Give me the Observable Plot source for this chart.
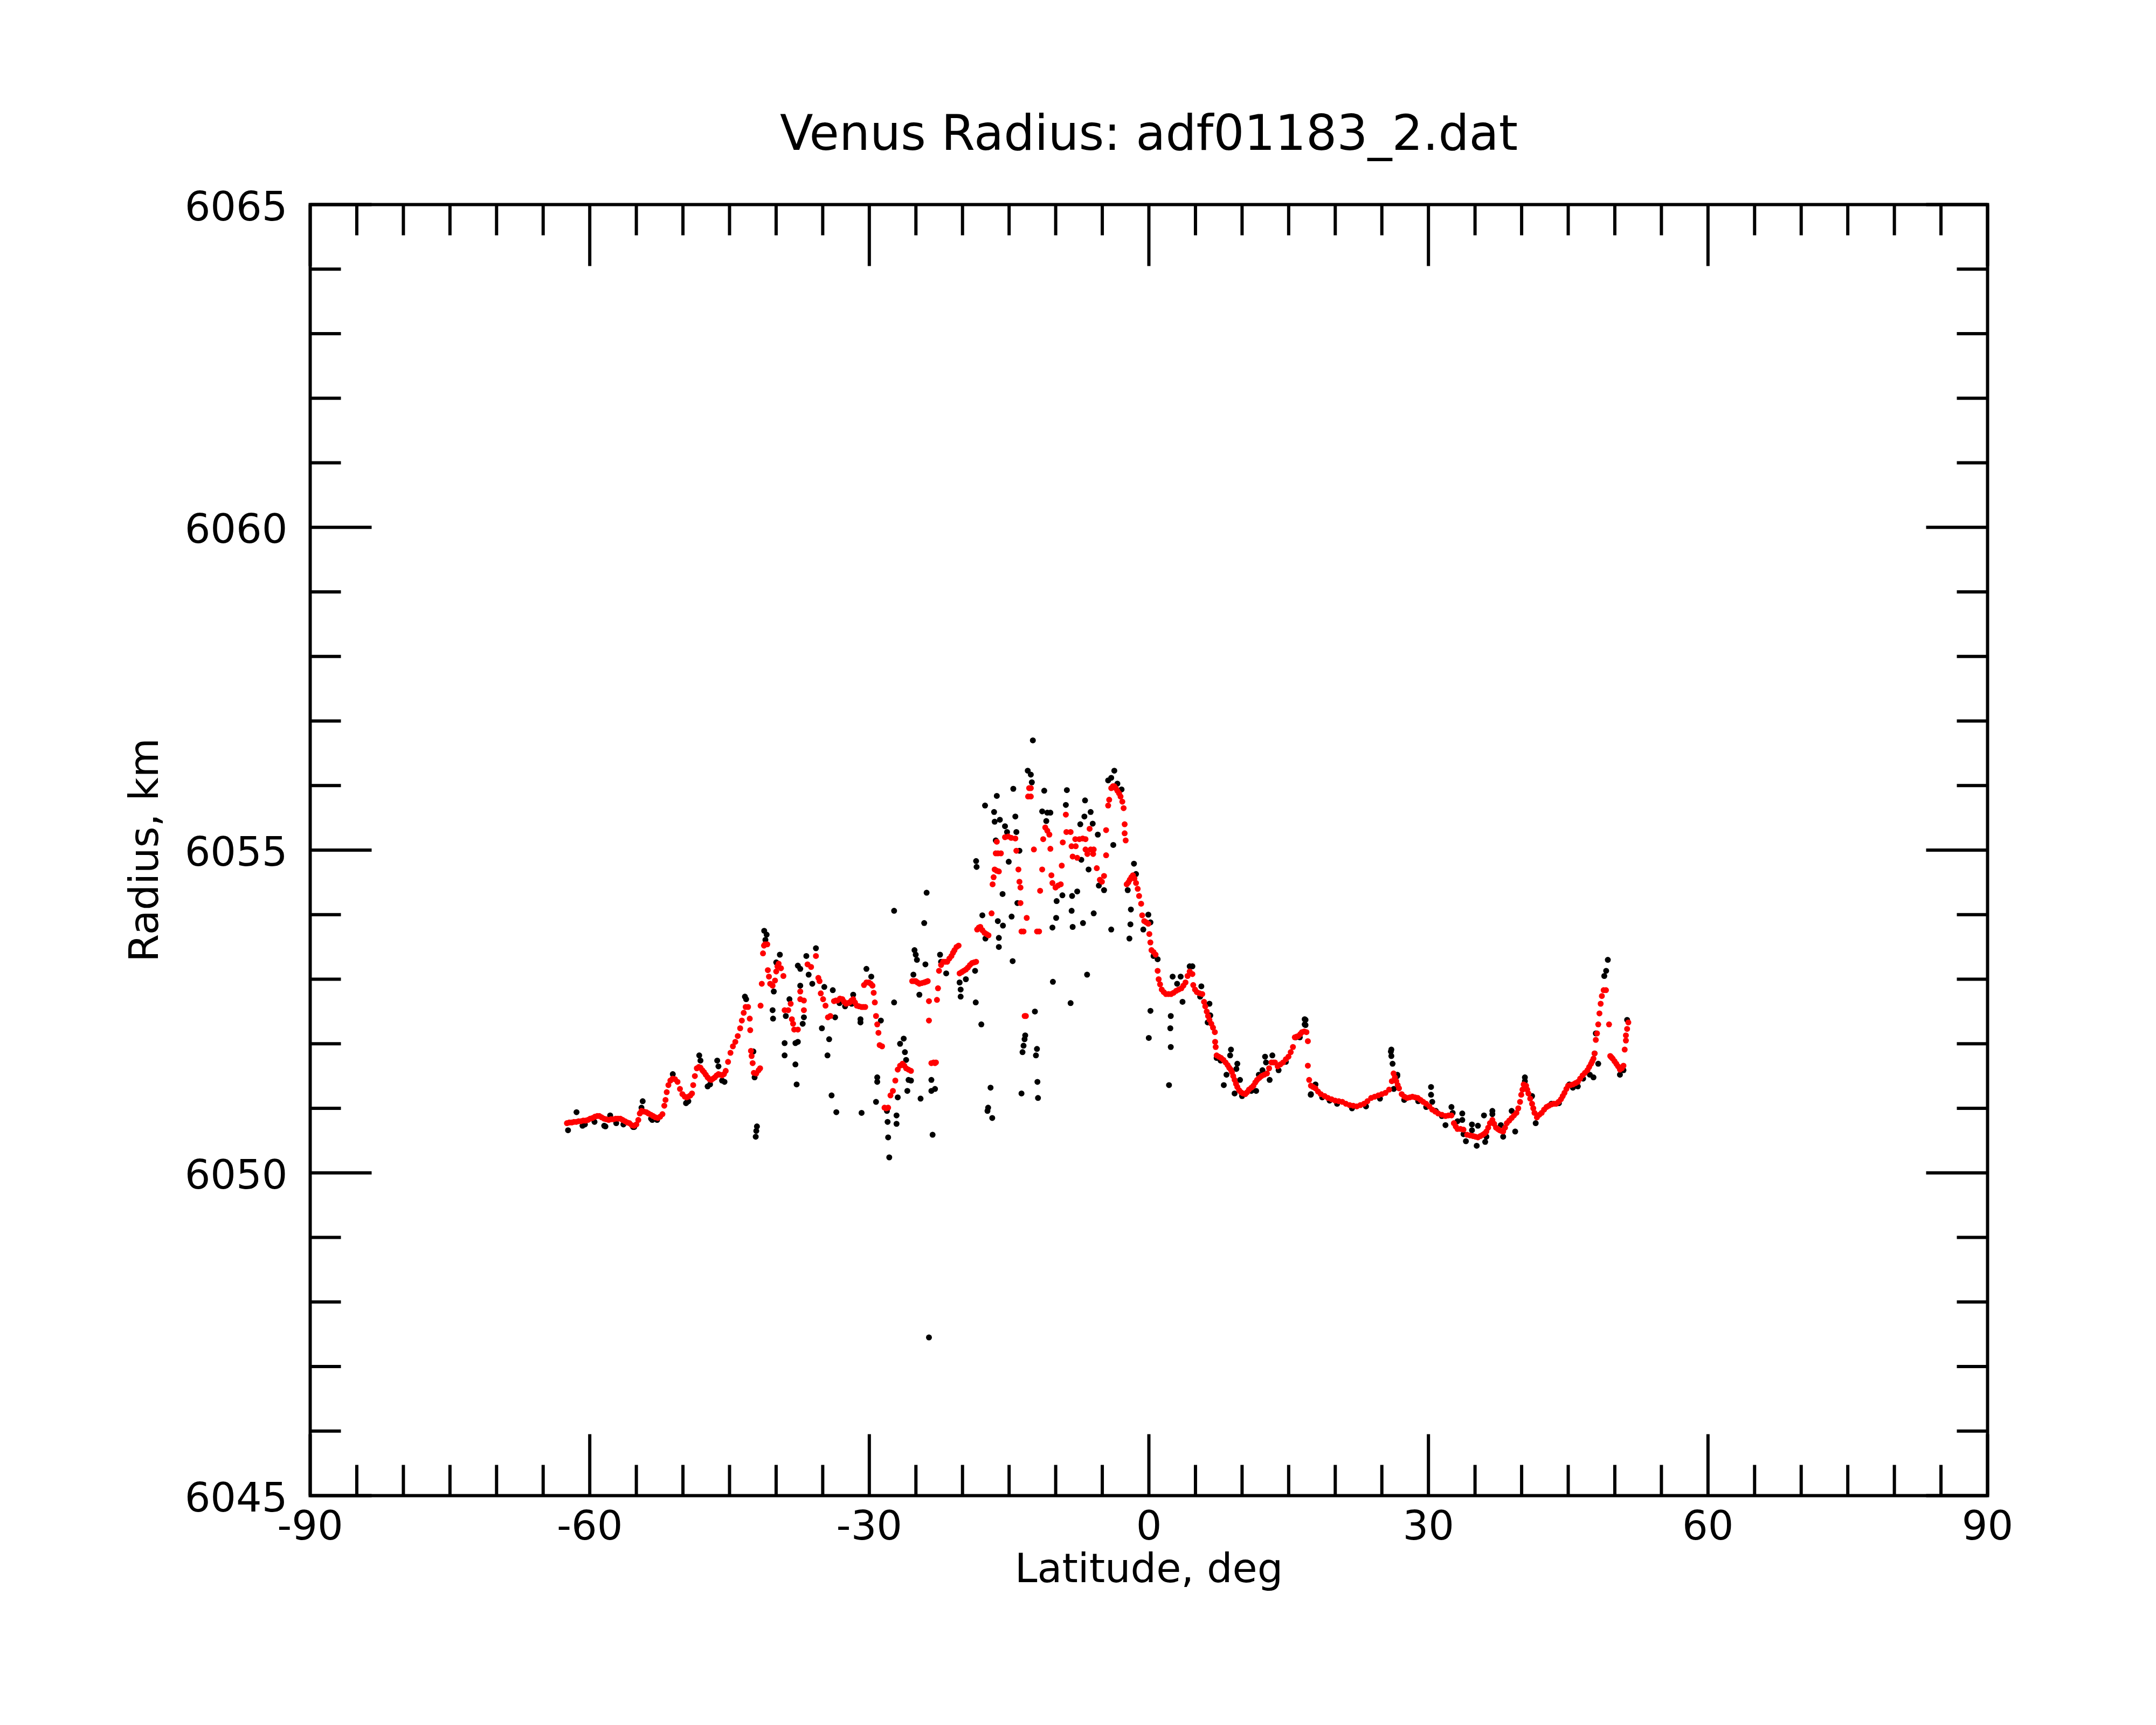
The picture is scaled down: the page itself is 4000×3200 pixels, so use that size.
<!DOCTYPE html>
<html>
<head>
<meta charset="utf-8">
<script src="https://cdn.jsdelivr.net/npm/d3@7"></script>
<script src="https://cdn.jsdelivr.net/npm/@observablehq/plot@0.6"></script>
<style>
  html, body { margin: 0; padding: 0; background: #fff; }
</style>
</head>
<body>
<div id="chart"></div>
<script>
const titleText = "Venus Radius: adf01183_2.dat";
const xLabelText = "Latitude, deg";
const yLabelText = "Radius, km";

const xDomain = [-90, 90];
const yDomain = [6045, 6065];
const xMajorTicks = [-90, -60, -30, 0, 30, 60, 90];
const xMinorTicks = [-85, -80, -75, -70, -65, -55, -50, -45, -40, -35, -25, -20, -15, -10, -5, 5, 10, 15, 20, 25, 35, 40, 45, 50, 55, 65, 70, 75, 80, 85];
const yMajorTicks = [6045, 6050, 6055, 6060, 6065];
const yMinorTicks = [6046, 6047, 6048, 6049, 6051, 6052, 6053, 6054, 6056, 6057, 6058, 6059, 6061, 6062, 6063, 6064];

// red series: [latitude, radius]
const smoothedRadius = [
[-62.45,6050.77],[-62.2,6050.78],[-61.94,6050.78],[-61.7,6050.79],[-61.45,6050.79],[-61.2,6050.80],[-60.95,6050.80],[-60.7,6050.81],[-60.45,6050.81],[-60.2,6050.82],[-59.95,6050.84],[-59.7,6050.85],[-59.45,6050.87],[-59.2,6050.88],[-58.97,6050.88],[-58.72,6050.86],[-58.47,6050.84],[-58.22,6050.83],[-57.97,6050.82],[-57.72,6050.83],[-57.47,6050.83],[-57.22,6050.84],[-56.97,6050.84],[-56.72,6050.84],[-56.47,6050.82],[-56.22,6050.80],[-55.97,6050.78],[-55.74,6050.77],[-55.5,6050.74],[-55.25,6050.73],[-55.0,6050.75],[-54.79,6050.82],[-54.63,6050.92],[-54.45,6050.96],[-54.2,6050.95],[-53.93,6050.94],[-53.7,6050.92],[-53.45,6050.90],[-53.2,6050.88],[-52.95,6050.86],[-52.7,6050.85],[-52.45,6050.87],[-52.2,6050.91],[-52.0,6051.04],[-51.87,6051.13],[-51.74,6051.25],[-51.56,6051.36],[-51.35,6051.43],[-51.1,6051.46],[-50.85,6051.45],[-50.58,6051.41],[-50.32,6051.30],[-50.06,6051.22],[-49.80,6051.18],[-49.6,6051.17],[-49.42,6051.18],[-49.2,6051.20],[-49.03,6051.23],[-48.90,6051.36],[-48.72,6051.50],[-48.51,6051.62],[-48.3,6051.64],[-48.12,6051.63],[-47.92,6051.59],[-47.74,6051.56],[-47.55,6051.52],[-47.35,6051.48],[-47.15,6051.45],[-46.96,6051.44],[-46.77,6051.46],[-46.58,6051.48],[-46.38,6051.51],[-46.19,6051.53],[-46.0,6051.52],[-45.80,6051.51],[-45.6,6051.53],[-45.41,6051.58],[-45.16,6051.72],[-44.90,6051.86],[-44.64,6051.96],[-44.38,6052.03],[-44.12,6052.12],[-43.86,6052.24],[-43.68,6052.36],[-43.48,6052.48],[-43.27,6052.57],[-43.01,6052.57],[-42.83,6052.39],[-42.78,6052.21],[-42.70,6051.89],[-42.63,6051.81],[-42.52,6051.70],[-42.39,6051.55],[-42.13,6051.54],[-41.88,6051.59],[-41.72,6051.62],
[-41.67,6052.59],[-41.54,6052.93],[-41.41,6053.40],[-41.30,6053.52],[-41.20,6053.54],[-40.95,6053.54],[-40.89,6053.14],[-40.77,6053.04],[-40.64,6052.93],[-40.38,6052.90],[-40.12,6052.98],[-39.99,6053.12],[-39.86,6053.20],[-39.73,6053.24],[-39.48,6053.17],[-39.22,6053.05],[-39.09,6052.52],[-38.70,6052.52],[-38.44,6052.62],[-38.31,6052.38],[-38.18,6052.31],[-38.06,6052.22],[-37.67,6052.22],[-37.41,6052.81],[-37.41,6052.69],[-37.02,6052.67],[-37.02,6052.52],[-36.63,6053.23],[-36.25,6053.19],[-35.73,6053.36],[-35.47,6053.02],[-35.34,6052.97],[-35.21,6052.78],[-34.96,6052.69],[-34.70,6052.59],[-34.44,6052.41],[-34.18,6052.43],[-33.79,6052.66],[-33.6,6052.67],[-33.41,6052.67],[-33.15,6052.70],[-32.89,6052.69],[-32.7,6052.65],[-32.50,6052.62],[-32.3,6052.63],[-32.12,6052.64],[-31.92,6052.67],[-31.73,6052.69],[-31.54,6052.64],[-31.34,6052.59],[-31.1,6052.58],[-30.83,6052.57],[-30.64,6052.57],[-30.44,6052.57],[-30.57,6052.91],[-30.31,6052.95],[-30.05,6052.95],[-29.85,6052.93],[-29.66,6052.90],[-29.53,6052.79],[-29.41,6052.64],[-29.28,6052.43],[-29.15,6052.30],[-29.02,6052.17],[-28.89,6051.98],[-28.63,6051.96],[-28.37,6051.01],[-28.18,6051.00],[-27.98,6051.01],[-27.73,6051.20],[-27.47,6051.27],[-27.21,6051.43],[-26.95,6051.60],[-26.70,6051.66],[-26.44,6051.69],[-26.25,6051.66],[-26.05,6051.62],[-25.8,6051.60],[-25.53,6051.58],[-25.40,6052.97],[-25.2,6052.97],[-25.02,6052.97],[-24.83,6052.95],[-24.63,6052.93],[-24.37,6052.94],[-24.11,6052.95],[-23.92,6052.96],[-23.73,6052.97],[-23.60,6052.66],[-23.60,6052.36],[-23.34,6051.70],[-23.10,6051.71],[-22.95,6051.70],
[-22.85,6051.71],[-22.74,6052.68],[-22.63,6052.86],[-22.52,6053.13],[-22.30,6053.22],[-22.08,6053.27],[-21.86,6053.27],[-21.64,6053.27],[-21.41,6053.32],[-21.19,6053.36],[-21.02,6053.41],[-20.86,6053.45],[-20.64,6053.50],[-20.42,6053.52],[-20.31,6053.09],[-20.09,6053.11],[-19.87,6053.13],[-19.64,6053.15],[-19.42,6053.18],[-19.20,6053.22],[-18.98,6053.25],[-18.76,6053.26],[-18.54,6053.27],[-18.43,6053.77],[-18.25,6053.80],[-18.09,6053.81],[-17.87,6053.76],[-17.65,6053.72],[-17.43,6053.70],[-17.21,6053.68],[-16.88,6054.02],[-16.77,6054.47],[-16.66,6054.58],[-16.55,6054.70],[-16.32,6054.68],[-16.10,6054.67],[-16.43,6054.95],[-16.20,6054.95],[-15.88,6054.95],[-16.32,6055.13],[-15.44,6055.20],[-15.10,6055.21],[-14.77,6055.19],[-14.33,6055.18],[-14.22,6054.99],[-14.00,6054.70],[-13.89,6054.51],[-13.78,6054.42],[-13.78,6054.18],[-13.67,6053.74],[-13.45,6053.74],[-13.33,6052.43],[-13.20,6052.43],[-13.11,6053.95],[-12.96,6055.83],[-12.67,6055.83],[-12.67,6055.96],[-12.85,6055.96],[-12.34,6055.01],[-12.00,6053.74],[-11.78,6053.74],[-11.67,6054.37],[-11.45,6054.70],[-11.34,6055.17],[-11.12,6055.35],[-10.90,6055.30],[-10.68,6055.24],[-10.57,6055.02],[-10.46,6054.61],[-10.35,6054.49],[-10.02,6054.42],[-9.75,6054.45],[-9.46,6054.47],[-9.35,6054.76],[-9.24,6055.12],[-8.91,6055.55],[-8.85,6055.28],[-8.40,6055.28],[-8.30,6055.06],[-7.85,6055.06],[-8.18,6054.90],[-7.69,6054.88],[-7.90,6055.17],[-7.46,6055.17],[-7.1,6055.18],[-6.80,6055.17],[-6.36,6055.33],[-6.80,6055.01],[-6.25,6055.01],[-5.92,6055.01],[-6.60,6054.94],[-5.98,6054.94],[-5.59,6054.72],[-5.26,6054.54],[-5.04,6054.51],[-4.81,6054.60],[-4.59,6054.92],[-4.59,6055.31],[-4.37,6055.69],[-4.26,6055.78],[-4.04,6055.96],[-3.85,6055.99],[-3.71,6055.99],[-3.55,6055.96],[-3.38,6055.92],[-3.2,6055.88],[-3.04,6055.83],[-2.85,6055.75],[-2.71,6055.65],[-2.60,6055.40],[-2.60,6055.26],[-2.49,6055.15],[-2.38,6054.47],[-2.2,6054.50],[-2.05,6054.54],[-1.88,6054.58],[-1.71,6054.61],[-1.55,6054.56],[-1.38,6054.49],[-1.2,6054.40],[-1.05,6054.29],[-0.83,6054.17],[-0.72,6053.99],[-0.50,6053.90],[-0.28,6053.88],[-0.06,6053.86],[0.05,6053.70],[0.16,6053.57],[0.28,6053.45],[0.5,6053.42],[0.72,6053.38],[0.94,6053.13],[1.05,6053.00],[1.2,6052.92],[1.38,6052.84],[1.6,6052.80],[1.83,6052.77],[2.1,6052.77],[2.38,6052.77],[2.65,6052.79],[2.93,6052.82],[3.2,6052.84],[3.49,6052.86],[3.7,6052.90],[3.93,6052.95],[4.15,6053.05],
[4.38,6053.12],[4.67,6053.08],[4.76,6052.91],[4.95,6052.84],[5.15,6052.80],[5.45,6052.78],[5.73,6052.77],[5.92,6052.65],[6.05,6052.58],[6.21,6052.50],[6.35,6052.43],[6.50,6052.37],[6.7,6052.31],[6.88,6052.25],[7.08,6052.18],[7.11,6052.03],[7.17,6051.95],[7.27,6051.82],[7.5,6051.80],[7.75,6051.78],[8.0,6051.75],[8.23,6051.71],[8.45,6051.67],[8.62,6051.63],[8.78,6051.60],[8.91,6051.56],[9.05,6051.50],[9.20,6051.44],[9.35,6051.38],[9.49,6051.33],[9.68,6051.28],[9.87,6051.25],[10.1,6051.23],[10.35,6051.22],[10.55,6051.25],[10.74,6051.29],[11.0,6051.32],[11.22,6051.35],[11.42,6051.40],[11.61,6051.44],[11.85,6051.47],[12.09,6051.50],[12.38,6051.52],[12.67,6051.54],[12.9,6051.62],[13.15,6051.71],[13.35,6051.71],[13.53,6051.71],[13.82,6051.65],[14.1,6051.68],[14.40,6051.71],[14.7,6051.76],[14.98,6051.80],[15.22,6051.87],[15.46,6051.95],[15.66,6052.10],[15.85,6052.11],[16.04,6052.12],[16.25,6052.15],[16.43,6052.18],[16.67,6052.19],[16.91,6052.18],[17.06,6052.04],[17.06,6051.66],[17.20,6051.44],[17.39,6051.35],[17.62,6051.33],[17.87,6051.31],[18.15,6051.26],[18.45,6051.22],[18.85,6051.19],[19.22,6051.16],[19.6,6051.14],[19.99,6051.12],[20.38,6051.11],[20.76,6051.10],[21.15,6051.07],[21.54,6051.05],[21.93,6051.04],[22.31,6051.03],[22.7,6051.05],[23.08,6051.07],[23.45,6051.11],[23.85,6051.16],[24.23,6051.18],[24.62,6051.20],[25.0,6051.22],[25.39,6051.24],[25.78,6051.29],[26.07,6051.42],[26.26,6051.54],[26.4,6051.48],[26.55,6051.42],[26.7,6051.36],[26.84,6051.31],[27.13,6051.22],[27.42,6051.18],[27.71,6051.16],[28.0,6051.17],[28.28,6051.18],[28.57,6051.17],[28.86,6051.16],[29.15,6051.13],[29.44,6051.10],[29.76,6051.07],[30.10,6051.03],[30.41,6050.98],[30.73,6050.95],[31.05,6050.92],[31.44,6050.90],[31.83,6050.88],[32.15,6050.89],[32.47,6050.89],[32.73,6050.77],[32.93,6050.72],[33.12,6050.68],[33.44,6050.68],[33.76,6050.67],[34.15,6050.59],[34.48,6050.58],[34.80,6050.57],[35.05,6050.56],[35.31,6050.55],[35.57,6050.57],[35.83,6050.59],[36.03,6050.61],[36.22,6050.64],[36.41,6050.70],[36.60,6050.77],[36.86,6050.82],[37.05,6050.76],[37.25,6050.70],[37.45,6050.68],[37.64,6050.66],[37.83,6050.65],[38.02,6050.64],[38.22,6050.70],[38.41,6050.77],[38.67,6050.81],[38.93,6050.85],[39.18,6050.89],[39.44,6050.93],[39.64,6051.00],[39.83,6051.10],[39.96,6051.21],[40.09,6051.29],[40.22,6051.37],[40.48,6051.35],[40.6,6051.29],[40.73,6051.23],[40.92,6051.15],[41.12,6051.07],[41.25,6051.00],[41.38,6050.93],[41.64,6050.86],[41.9,6050.90],[42.15,6050.93],[42.41,6050.98],[42.67,6051.02],[42.93,6051.04],[43.19,6051.06],[43.45,6051.07],[43.70,6051.07],[43.96,6051.10],[44.22,6051.14],[44.41,6051.19],[44.60,6051.24],[44.8,6051.30],[44.99,6051.35],[45.25,6051.36],[45.51,6051.37],[45.77,6051.39],[46.03,6051.41],[46.28,6051.46],[46.54,6051.51],[46.8,6051.55],[47.06,6051.59],[47.25,6051.64],[47.45,6051.69],[47.58,6051.73],[47.71,6051.77],[47.83,6051.85],[47.96,6052.06],[48.09,6052.16],[48.22,6052.30],[48.35,6052.47],[48.48,6052.62],[48.61,6052.74],[48.80,6052.83],[49.05,6052.83],[49.38,6052.30],[49.51,6051.81],[49.64,6051.79],[49.77,6051.77],[49.97,6051.73],[50.16,6051.69],[50.35,6051.65],[50.55,6051.60],[50.75,6051.62],[50.93,6051.66],[51.06,6051.91],[51.19,6052.05],[51.19,6052.13],[51.32,6052.23],[51.45,6052.33]
];

// black series: [latitude, radius]
const rawRadius = [
[-62.33,6050.66],[-61.42,6050.94],[-60.78,6050.73],[-60.52,6050.75],[-59.49,6050.79],[-58.45,6050.73],[-58.32,6050.72],[-57.81,6050.89],[-57.16,6050.77],[-56.39,6050.75],[-55.35,6050.71],[-55.23,6050.71],[-54.32,6051.11],[-54.45,6051.01],[-53.42,6050.84],[-53.29,6050.82],[-52.77,6050.82],[-51.09,6051.53],[-49.67,6051.08],[-49.54,6051.10],[-49.42,6051.11],[-48.25,6051.82],[-48.12,6051.74],[-47.35,6051.34],[-47.09,6051.37],[-46.32,6051.74],[-46.19,6051.65],[-45.80,6051.43],[-45.54,6051.41],
[-43.35,6052.73],[-43.22,6052.69],[-42.44,6051.88],[-42.31,6051.48],[-42.06,6050.72],[-42.13,6050.65],[-42.19,6050.56],[-41.28,6053.75],[-41.02,6053.69],[-41.15,6053.61],[-40.38,6052.52],[-40.33,6052.39],[-40.25,6052.81],[-39.60,6053.38],[-39.99,6053.26],[-39.09,6052.01],[-39.09,6051.82],[-37.93,6051.68],[-37.80,6051.37],[-37.93,6052.01],[-37.67,6052.03],[-37.67,6053.21],[-37.41,6053.16],[-37.41,6052.90],[-37.15,6052.31],[-37.02,6052.41],[-38.57,6052.69],[-38.96,6052.43],[-36.76,6053.36],[-36.51,6053.07],[-36.12,6052.93],[-35.73,6053.48],[-34.83,6052.88],[-35.09,6052.24],[-34.49,6051.82],[-34.31,6052.07],[-34.05,6051.20],[-33.92,6052.83],[-33.54,6050.94],[-33.67,6052.41],[-33.2,6052.63],[-32.6,6052.58],[-31.9,6052.62],[-30.95,6052.38],[-30.95,6052.33],[-31.73,6052.76],[-30.83,6050.93],[-30.31,6053.16],[-29.79,6053.04],[-29.28,6051.10],[-29.15,6051.48],[-29.15,6051.41],[-28.76,6052.36],[-28.11,6050.96],[-28.04,6050.79],[-27.98,6050.55],[-27.86,6050.24],[-27.34,6054.06],[-27.34,6052.64],[-27.08,6050.89],[-27.08,6050.76],[-26.95,6051.17],[-26.70,6052.00],[-26.31,6052.08],[-26.18,6051.87],[-26.05,6051.75],[-25.92,6051.27],[-25.79,6051.44],[-25.53,6051.43],[-25.27,6053.07],[-25.15,6053.45],[-25.02,6053.38],[-24.89,6053.30],[-24.63,6052.76],[-24.50,6051.15],[-24.11,6053.87],[-23.98,6053.23],[-23.85,6054.34],[-23.6,6047.45],[-23.34,6051.44],[-23.21,6050.59],[-23.34,6051.27],[-22.95,6051.30],
[-22.41,6053.38],[-22.30,6053.27],[-21.75,6053.09],[-20.31,6052.95],[-20.20,6052.84],[-20.20,6052.73],[-19.64,6053.00],[-18.65,6053.13],[-18.58,6052.64],[-17.98,6052.30],[-18.54,6054.83],[-18.49,6054.74],[-17.87,6053.99],[-17.54,6053.63],[-16.99,6051.32],[-17.25,6051.01],[-17.32,6050.96],[-16.81,6050.85],[-17.58,6055.69],[-16.32,6055.84],[-16.61,6055.59],[-16.55,6055.44],[-15.99,6055.47],[-15.44,6055.37],[-15.22,6055.28],[-16.43,6055.15],[-16.21,6053.90],[-15.66,6053.83],[-16.10,6053.64],[-16.10,6053.50],[-15.70,6054.32],[-15.04,6054.82],[-14.73,6053.97],[-14.62,6053.28],[-14.55,6055.95],[-14.33,6055.52],[-14.22,6055.28],[-13.89,6054.99],[-14.11,6054.18],[-13.67,6051.23],[-13.56,6051.87],[-13.45,6051.97],[-13.34,6052.07],[-13.27,6052.13],[-13.00,6056.23],[-12.67,6056.17],[-12.56,6056.05],[-12.45,6056.70],[-12.23,6052.50],[-12.01,6051.92],[-12.12,6051.82],[-11.96,6051.41],[-11.90,6051.16],[-11.23,6055.92],[-11.45,6055.60],[-10.90,6055.58],[-10.57,6055.58],[-11.01,6055.45],[-10.35,6053.80],[-10.30,6052.96],[-9.95,6053.95],[-9.90,6054.21],[-9.28,6054.30],[-8.80,6055.93],[-8.91,6055.70],[-8.40,6052.63],[-8.29,6054.06],[-8.18,6053.81],[-8.24,6054.29],[-7.69,6054.36],[-7.36,6055.40],[-7.25,6054.85],[-7.07,6053.87],[-6.92,6055.52],[-6.85,6055.77],[-6.63,6053.07],[-6.47,6054.70],[-6.25,6055.59],[-6.03,6055.41],[-5.92,6054.02],[-5.48,6055.24],[-5.37,6054.45],[-4.81,6054.38],[-4.04,6053.77],[-3.82,6055.08],[-4.37,6056.08],[-4.04,6056.12],[-3.71,6056.23],[-3.38,6056.03],[-2.93,6055.94],[-1.60,6054.79],[-1.38,6054.63],[-1.93,6054.08],[-1.98,6053.85],[-2.09,6053.63],[-2.27,6054.38],[-0.60,6053.77],[-0.06,6054.00],[0.17,6053.88],[0.17,6052.51],[-0.01,6052.09],[0.50,6053.36],[0.94,6053.31],
[2.55,6053.04],[2.35,6052.43],[2.30,6052.24],[2.35,6051.95],[2.16,6051.36],[3.41,6053.04],[3.61,6052.65],[3.03,6052.93],[4.38,6053.20],[4.67,6053.20],[5.5,6052.73],[5.63,6052.89],[6.50,6052.62],[6.59,6052.44],[6.31,6052.33],[7.27,6051.78],[7.7,6051.74],[8.04,6051.36],[8.33,6051.52],[8.81,6051.91],[8.72,6051.82],[9.20,6051.23],[9.49,6051.69],[9.39,6051.61],[9.78,6051.44],[10.0,6051.19],[11.0,6051.27],[11.51,6051.27],[11.80,6051.52],[12.19,6051.59],[12.47,6051.80],[12.57,6051.71],[12.96,6051.44],[13.25,6051.82],[13.92,6051.59],[14.7,6051.72],[15.75,6052.10],[16.2,6052.10],[16.72,6052.38],[16.72,6052.30],[16.81,6052.37],[16.81,6052.29],[17.37,6051.21],[17.39,6051.22],[17.88,6051.37],[18.6,6051.17],[19.4,6051.12],[20.2,6051.07],[21.8,6051.00],[23.3,6051.03],[24.8,6051.15],[26.02,6051.91],[26.02,6051.81],[25.97,6051.88],[26.15,6051.69],[26.66,6051.52],[26.65,6051.50],[26.28,6051.30],[27.4,6051.13],[28.9,6051.11],[29.76,6051.02],[29.83,6051.03],[30.28,6051.33],[30.28,6051.21],[30.41,6051.10],[30.79,6050.96],[31.44,6050.88],[31.83,6050.74],[32.47,6051.02],[32.60,6050.93],[33.12,6050.80],[33.63,6050.92],[33.63,6050.82],[33.76,6050.60],[34.02,6050.49],[34.67,6050.75],[34.67,6050.66],[35.18,6050.42],[35.31,6050.73],[35.96,6050.89],[36.09,6050.48],[36.22,6050.56],[36.86,6050.96],[36.86,6050.91],[37.77,6050.74],[38.02,6050.56],[38.93,6050.96],[39.31,6050.64],[40.35,6051.48],[40.35,6051.42],[41.12,6051.19],[41.51,6050.77],[43.19,6051.07],[44.0,6051.08],[45.12,6051.37],[45.5,6051.32],[46.03,6051.34],[46.6,6051.46],[47.32,6051.52],[47.71,6051.48],[47.83,6051.85],[47.96,6052.16],[48.22,6051.69],[48.87,6053.05],[49.07,6053.13],[49.25,6053.30],[50.55,6051.52],[50.93,6051.59],[51.32,6052.37]
];

// inward tick shapes
const tickUp = {draw(ctx, l) { ctx.moveTo(0, 0); ctx.lineTo(0, -l); }};
const tickDown = {draw(ctx, l) { ctx.moveTo(0, 0); ctx.lineTo(0, l); }};
const tickRight = {draw(ctx, l) { ctx.moveTo(0, 0); ctx.lineTo(l, 0); }};
const tickLeft = {draw(ctx, l) { ctx.moveTo(0, 0); ctx.lineTo(-l, 0); }};

const majorLen = 114, minorLen = 57, tickW = 6;
const tickStyle = {anchor: "start", stroke: "#000", strokeWidth: tickW, strokeLinecap: "butt"};

const chart = Plot.plot({
  width: 4000,
  height: 3200,
  marginLeft: 575,
  marginRight: 313,
  marginTop: 379,
  marginBottom: 426,
  x: {domain: xDomain},
  y: {domain: yDomain},
  style: {fontFamily: "'DejaVu Sans', sans-serif", fontSize: "75px", background: "#fff", color: "#000"},
  marks: [
    Plot.dot(rawRadius, {x: d => d[0], y: d => d[1], r: 5.5, fill: "#000", stroke: "none"}),
    Plot.dot(smoothedRadius, {x: d => d[0], y: d => d[1], r: 5.5, fill: "#ff0000", stroke: "none"}),
    // ticks bottom/top
    Plot.vectorX(xMajorTicks, {frameAnchor: "bottom", length: majorLen, shape: tickUp, ...tickStyle}),
    Plot.vectorX(xMinorTicks, {frameAnchor: "bottom", length: minorLen, shape: tickUp, ...tickStyle}),
    Plot.vectorX(xMajorTicks, {frameAnchor: "top", length: majorLen, shape: tickDown, ...tickStyle}),
    Plot.vectorX(xMinorTicks, {frameAnchor: "top", length: minorLen, shape: tickDown, ...tickStyle}),
    // ticks left/right
    Plot.vectorY(yMajorTicks, {frameAnchor: "left", length: majorLen, shape: tickRight, ...tickStyle}),
    Plot.vectorY(yMinorTicks, {frameAnchor: "left", length: minorLen, shape: tickRight, ...tickStyle}),
    Plot.vectorY(yMajorTicks, {frameAnchor: "right", length: majorLen, shape: tickLeft, ...tickStyle}),
    Plot.vectorY(yMinorTicks, {frameAnchor: "right", length: minorLen, shape: tickLeft, ...tickStyle}),
    Plot.frame({stroke: "#000", strokeWidth: tickW}),
    Plot.axisX(xMajorTicks, {anchor: "bottom", tickSize: 0, tickPadding: 28, fontSize: 75, tickFormat: d => String(d), label: null}),
    Plot.axisY(yMajorTicks, {anchor: "left", tickSize: 0, tickPadding: 42, fontSize: 75, dy: 5, tickFormat: d => String(d), label: null}),
    Plot.text([titleText], {text: d => d, frameAnchor: "top", lineAnchor: "bottom", dy: -102, fontSize: 90}),
    Plot.text([xLabelText], {text: d => d, frameAnchor: "bottom", lineAnchor: "bottom", dy: 160, fontSize: 75}),
    Plot.text([yLabelText], {text: d => d, frameAnchor: "left", textAnchor: "middle", lineAnchor: "bottom", rotate: -90, dx: -283, fontSize: 75})
  ]
});
document.getElementById("chart").appendChild(chart);
</script>
</body>
</html>
